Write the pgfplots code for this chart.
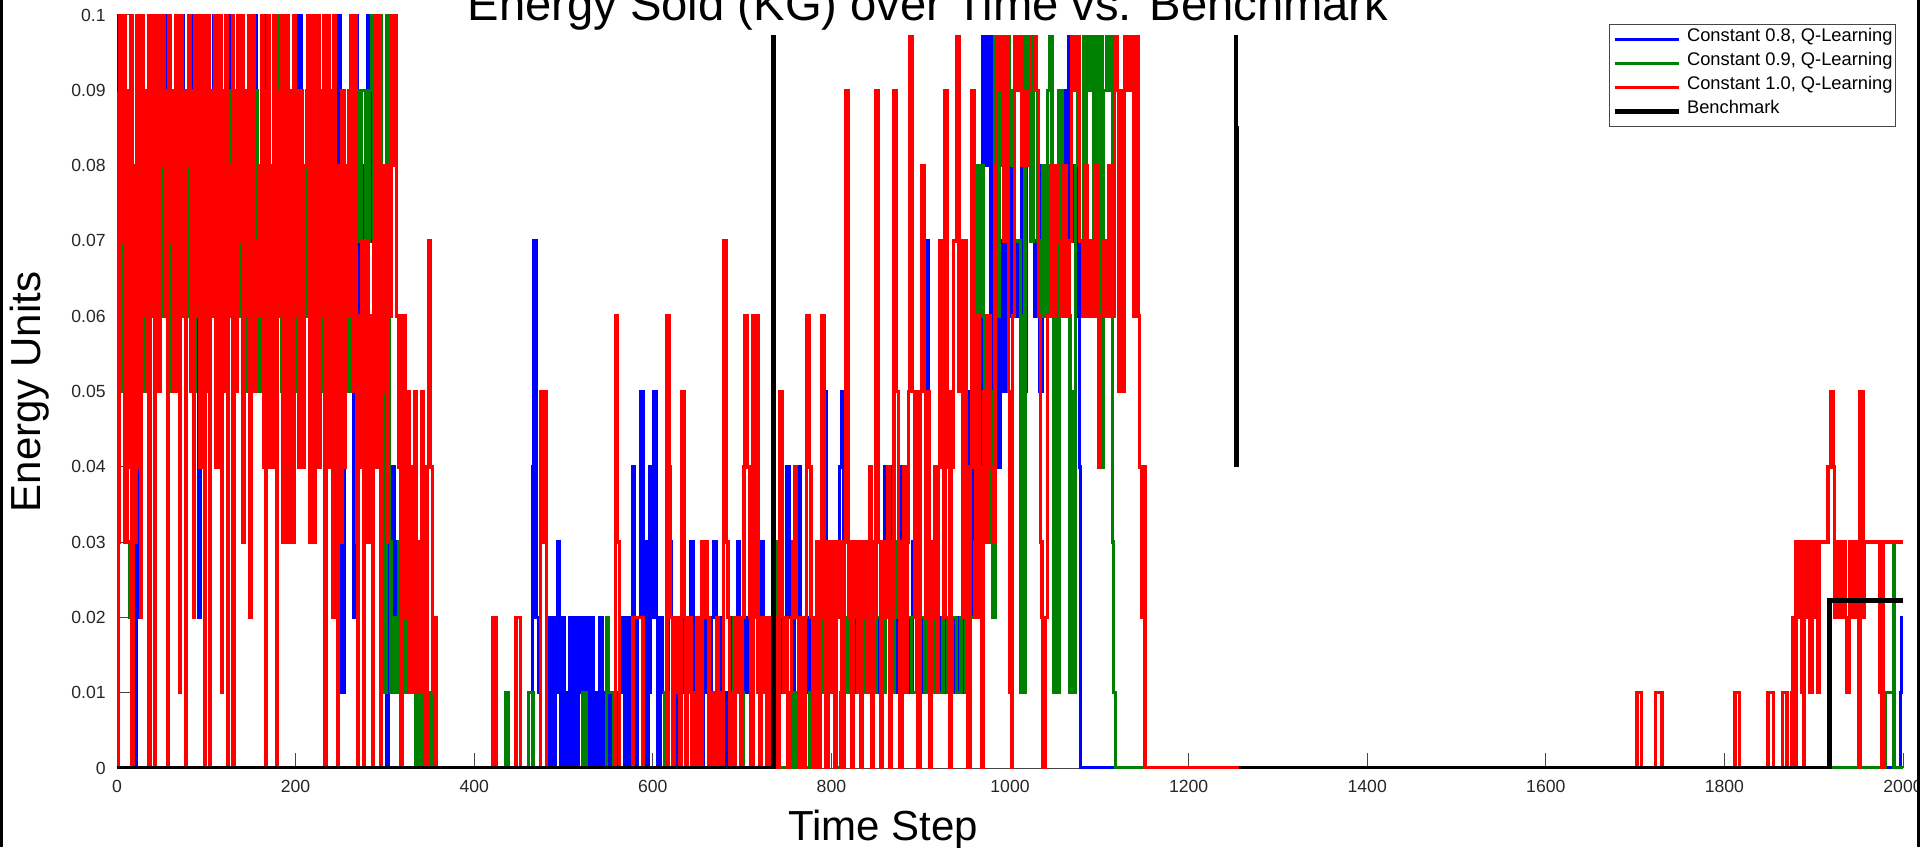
\documentclass[border=0pt]{standalone}
\usepackage{pgfplots}
\pgfplotsset{compat=1.18}
\usepackage{fontspec}
\setmainfont{Liberation Sans}
\definecolor{mblue}{RGB}{0,0,255}
\definecolor{mgreen}{RGB}{0,128,0}
\definecolor{mred}{RGB}{255,0,0}
\definecolor{axgray}{RGB}{70,70,70}

\begin{document}
\begin{tikzpicture}
\path[use as bounding box] (-58.5pt,-39.5pt) rectangle (901.5pt,384pt);
\begin{axis}[
  at={(0pt,0pt)}, anchor=south west,
  scale only axis, width=893pt, height=376.5pt,
  xmin=0, xmax=2000, ymin=0, ymax=0.1,
  axis x line*=bottom, axis y line*=left,
  axis line style={draw=axgray, line width=0.5pt},
  tick align=inside, major tick length=7.5pt,
  tick style={axgray, line width=0.5pt},
  xtick={0,200,400,600,800,1000,1200,1400,1600,1800,2000},
  xticklabels={0,200,400,600,800,1000,1200,1400,1600,1800,2000},
  ytick={0,0.01,0.02,0.03,0.04,0.05,0.06,0.07,0.08,0.09,0.1},
  yticklabels={0,0.01,0.02,0.03,0.04,0.05,0.06,0.07,0.08,0.09,0.1},
  scaled x ticks=false, scaled y ticks=false,
  ticklabel style={font=\fontsize{8.8}{10}\selectfont, text=black!85},
  xticklabel style={inner sep=0pt, anchor=north, yshift=-6pt},
  yticklabel style={inner sep=0pt, anchor=east, xshift=-5.5pt},
  const plot,
  unbounded coords=jump,
  legend cell align=left,
  legend style={at={(rel axis cs:0.9961,0.988)}, anchor=north east,
    draw=axgray, line width=0.5pt, fill=white,
    font=\fontsize{9.15}{11}\selectfont,
    inner xsep=1.5pt, inner ysep=1.5pt, column sep=3pt,
    nodes={inner xsep=0pt, inner ysep=0pt, text height=7pt, text depth=5pt}},
  legend image code/.code={\path (0pt,0pt) -- (4pt,0pt); \draw[#1, line cap=butt] (4pt,0pt) -- (32pt,0pt);},
]

% Constant 0.8
\addplot[mblue, line width=1.7pt] table[row sep=\\] {t v\\
0 0.09\\ 1 0.1\\ 3 0.07\\ 5 0.1\\ 8 0.06\\ 11 0.09\\ 14 0.05\\ 17 0.08\\ 19 0.02\\ 20 0\\ 22 0.05\\ 24 0.02\\ 26 0.06\\ 29 0.09\\
32 0.07\\ 35 0.1\\ 38 0.06\\ 41 0.08\\ 44 0.1\\ 47 0.07\\ 50 0.09\\ 53 0.06\\ 56 0.1\\ 59 0.08\\ 62 0.06\\ 65 0.09\\ 68 0.07\\
71 0.1\\ 74 0.08\\ 77 0.06\\ 80 0.09\\ 83 0.07\\ 86 0.1\\ 89 0.06\\ 91 0.02\\ 93 0.08\\ 96 0.1\\ 99 0.07\\ 102 0.09\\ 105 0.06\\
108 0.1\\ 111 0.08\\ 114 0.06\\ 117 0.09\\ 120 0.07\\ 123 0.1\\ 126 0.08\\ 129 0.06\\ 132 0.09\\ 135 0.07\\ 138 0.1\\ 141 0.08\\
144 0.06\\ 147 0.09\\ 150 0.07\\ 153 0.1\\ 156 0.08\\ 159 0.06\\ 162 0.09\\ 165 0.07\\ 168 0.1\\ 171 0.08\\ 174 0.06\\ 177 0.09\\
180 0.07\\ 183 0.1\\ 186 0.08\\ 189 0.06\\ 192 0.09\\ 195 0.07\\ 198 0.08\\ 201 0.06\\ 204 0.1\\ 206 0.06\\ 209 0.08\\ 212 0.06\\
215 0.09\\ 218 0.07\\ 221 0.08\\ 225 0.1\\ 227 0.08\\ 229 0.06\\ 233 0.1\\ 235 0.07\\ 238 0.09\\ 241 0.06\\ 244 0.08\\ 248 0.1\\
250 0.03\\ 252 0.01\\ 254 0.07\\ 257 0.08\\ 260 0.06\\ 263 0.1\\ 265 0.02\\ 267 0.1\\ 269 0.06\\ 272 0.08\\ 275 0.06\\ 278 0.07\\
280 0.03\\ 281 0.1\\ 285 0.07\\ 288 0.05\\ 291 0.06\\ 294 0.04\\ 297 0.05\\ 300 0.03\\ 302 0\\ 304 0.03\\ 307 0.04\\ 310 0.02\\
313 0.03\\ 316 0.02\\ 319 0.03\\ 322 0.02\\ 324 0.01\\ 328 0.02\\ 331 0.01\\ 334 0\\ 340 0.01\\ 342 0\\
465 0.02\\ 466 0.04\\ 467 0.07\\ 470 0.02\\ 472 0.01\\ 474 0\\
482 0.01\\ 484 0\\ 485 0.02\\ 487 0.01\\ 489 0\\ 491 0.02\\ 493 0.03\\ 495 0.01\\ 497 0\\ 499 0.02\\ 501 0.01\\ 503 0\\ 505 0.01\\
507 0.02\\ 509 0\\ 511 0.01\\ 513 0.02\\ 515 0\\ 517 0.01\\ 519 0.02\\ 521 0.01\\ 523 0\\ 525 0.02\\ 527 0.01\\ 529 0\\ 531 0.02\\
533 0.01\\ 535 0\\ 537 0.01\\ 539 0\\ 541 0.02\\ 543 0.01\\ 545 0\\ 547 0.01\\ 549 0\\ 551 0.01\\ 553 0\\ 555 0.01\\ 557 0\\
559 0.01\\ 561 0\\ 563 0.01\\ 566 0.02\\ 568 0\\ 570 0.02\\ 572 0.01\\ 574 0\\ 575 0.02\\ 577 0.04\\ 579 0.02\\ 581 0\\ 583 0.02\\
586 0.05\\ 589 0.02\\ 591 0.03\\ 593 0\\ 595 0.01\\ 597 0.04\\ 599 0.02\\ 601 0.05\\ 604 0.02\\ 606 0\\ 608 0.02\\ 611 0.01\\
613 0\\ 615 0.01\\ 617 0.02\\ 619 0.03\\ 621 0.02\\ 623 0\\ 626 0.02\\ 629 0.01\\ 632 0.02\\ 635 0.01\\
638 0.02\\ 640 0.01\\ 642 0.03\\ 645 0.01\\ 648 0.02\\ 651 0.01\\ 654 0\\ 656 0.01\\ 659 0.02\\ 662 0.01\\ 665 0.02\\ 668 0.03\\
671 0.01\\ 674 0.02\\ 677 0.01\\ 680 0\\ 683 0.01\\ 686 0.02\\ 689 0.01\\ 692 0.02\\ 695 0.03\\ 697 0.01\\ 700 0.02\\ 703 0.01\\
706 0.02\\ 709 0.04\\ 712 0.02\\ 715 0.04\\ 718 0.01\\ 720 0.02\\ 722 0.03\\ 724 0.01\\ 726 0.02\\ 729 0.01\\ 732 0.02\\ 735 0\\
738 0.01\\ 741 0.02\\ 744 0.01\\ 747 0.02\\ 750 0.04\\ 753 0.02\\ 756 0.01\\ 759 0.02\\ 762 0.04\\ 765 0.02\\ 768 0.01\\ 771 0.02\\
774 0.01\\ 776 0.02\\ 780 0.01\\ 783 0.02\\ 787 0.01\\ 790 0.02\\ 791 0.05\\ 794 0.02\\ 797 0.01\\ 800 0.03\\ 803 0.02\\ 806 0.03\\
809 0.04\\ 811 0.05\\ 814 0.02\\ 817 0.01\\ 820 0.02\\ 823 0.01\\ 826 0.02\\ 829 0.01\\ 832 0.02\\ 834 0.03\\ 838 0.02\\ 841 0.03\\
844 0.01\\ 847 0.02\\ 850 0.01\\ 853 0.02\\ 856 0.01\\ 860 0.04\\ 863 0.02\\ 865 0.04\\ 868 0.01\\ 871 0.02\\ 874 0.01\\ 877 0.04\\
880 0.02\\ 883 0.01\\ 886 0.02\\ 889 0.01\\ 891 0.03\\ 895 0.02\\ 898 0.01\\ 901 0.02\\ 904 0.01\\ 907 0.07\\ 909 0.02\\ 912 0.01\\
914 0.03\\ 918 0.02\\ 921 0.01\\ 924 0.02\\ 927 0.01\\ 930 0.02\\ 933 0.01\\ 936 0.02\\ 939 0.01\\ 942 0.02\\ 945 0.01\\ 948 0.02\\
951 0.01\\ 955 0.05\\ 958 0.02\\ 961 0.03\\ 964 0.02\\ 967 0.05\\ 969 0.1\\ 973 0.08\\ 975 0.1\\ 978 0.05\\ 980 0.1\\ 983 0.06\\
986 0.04\\ 989 0.07\\ 992 0.05\\ 996 0.09\\ 998 0.06\\ 1001 0.08\\ 1004 0.06\\ 1007 0.07\\ 1010 0.06\\ 1013 0.09\\ 1015 0.05\\
1018 0.09\\ 1020 0.1\\ 1022 0.08\\ 1025 0.07\\ 1028 0.06\\ 1031 0.08\\ 1033 0.05\\ 1036 0.07\\ 1040 0.06\\ 1044 0.08\\ 1048 0.06\\
1052 0.07\\ 1056 0.06\\ 1059 0.08\\ 1061 0.09\\ 1064 0.06\\ 1066 0.1\\ 1068 0.08\\ 1071 0.07\\ 1074 0.06\\ 1076 0.09\\ 1078 0.04\\
1079 0\\ 1997 0.01\\ 1998 0.02\\ 2000 0.02\\
};
\addlegendentry{Constant 0.8, Q-Learning}

% Constant 0.9
\addplot[mgreen, line width=1.7pt] table[row sep=\\] {t v\\
0 0.06\\ 3 0.08\\ 6 0.05\\ 9 0.07\\ 11 0.03\\ 14 0.02\\ 16 0.07\\ 19 0.05\\ 22 0.06\\ 26 0.05\\ 29 0.08\\ 32 0.06\\ 35 0.09\\
38 0.07\\ 41 0.1\\ 44 0.09\\ 46 0.06\\ 49 0.08\\ 52 0.06\\ 55 0.09\\ 58 0.07\\ 61 0.05\\ 64 0.08\\ 67 0.1\\ 70 0.06\\ 73 0.08\\
76 0.06\\ 79 0.09\\ 82 0.07\\ 85 0.05\\ 88 0.08\\ 91 0.06\\ 94 0.09\\ 97 0.07\\ 100 0.06\\ 103 0.08\\ 106 0.06\\ 109 0.09\\
112 0.07\\ 115 0.05\\ 118 0.08\\ 121 0.06\\ 124 0.09\\ 127 0.07\\ 130 0.05\\ 133 0.08\\ 136 0.06\\ 139 0.09\\ 142 0.07\\ 145 0.05\\
148 0.08\\ 151 0.06\\ 154 0.09\\ 157 0.07\\ 160 0.05\\ 162 0.1\\ 164 0.07\\ 167 0.06\\ 170 0.08\\ 173 0.06\\ 176 0.09\\ 179 0.1\\
181 0.07\\ 184 0.05\\ 187 0.08\\ 190 0.06\\ 193 0.09\\ 196 0.07\\ 199 0.05\\ 202 0.08\\ 205 0.06\\ 208 0.07\\ 211 0.06\\ 213 0.1\\
216 0.08\\ 219 0.06\\ 222 0.09\\ 225 0.07\\ 228 0.05\\ 231 0.08\\ 234 0.06\\ 237 0.09\\ 240 0.07\\ 243 0.05\\ 246 0.08\\ 249 0.06\\
252 0.05\\ 255 0.06\\ 258 0.05\\ 260 0.08\\ 264 0.1\\ 266 0.09\\ 270 0.07\\ 274 0.09\\ 278 0.07\\ 282 0.09\\ 285 0.1\\ 287 0.07\\
289 0.1\\ 292 0.09\\ 294 0.1\\ 296 0.07\\ 298 0.02\\ 300 0.01\\ 302 0.1\\ 305 0.03\\ 307 0.01\\ 310 0.02\\ 313 0.01\\ 316 0.03\\
319 0.01\\ 322 0.02\\ 325 0.01\\ 328 0.02\\ 331 0.01\\ 334 0\\ 336 0.01\\ 339 0\\ 341 0.01\\ 344 0\\ 350 0.01\\ 354 0\\
435 0.01\\ 438 0\\ 461 0.01\\ 466 0\\ 522 0.01\\ 526 0\\ 548 0.02\\ 550 0.01\\ 556 0\\ 613 0.01\\ 617 0\\ 673 0.01\\ 679 0\\
688 0.01\\ 691 0.02\\ 694 0.01\\ 701 0\\ 735 0.03\\ 739 0.01\\ 742 0\\ 757 0.01\\ 761 0\\ 776 0.01\\ 780 0\\ 787 0.02\\ 791 0.01\\
795 0.02\\ 798 0.01\\ 806 0\\ 810 0.01\\ 814 0.02\\ 817 0.01\\ 820 0.03\\ 823 0.02\\ 826 0.03\\ 829 0.01\\ 833 0.02\\ 837 0.01\\
841 0.02\\ 845 0.01\\ 850 0.02\\ 855 0.01\\ 860 0.02\\ 865 0.01\\ 870 0.02\\ 874 0.03\\ 880 0.01\\ 885 0.02\\ 890 0.01\\ 895 0.02\\
904 0.01\\ 908 0.02\\ 912 0.01\\ 916 0.02\\ 920 0.01\\ 925 0.02\\ 930 0.01\\ 935 0.02\\ 940 0.01\\ 945 0.02\\ 950 0.01\\ 955 0.02\\
960 0.03\\ 962 0.08\\ 965 0.06\\ 968 0.08\\ 970 0.06\\ 972 0.05\\ 975 0.03\\ 978 0.05\\ 981 0.02\\ 983 0.1\\ 986 0.06\\ 988 0.08\\
990 0.1\\ 993 0.09\\ 996 0.1\\ 999 0.08\\ 1002 0.09\\ 1005 0.07\\ 1012 0.01\\ 1014 0.06\\ 1016 0.01\\ 1017 0.1\\ 1020 0.09\\
1023 0.07\\ 1026 0.1\\ 1029 0.09\\ 1031 0.07\\ 1034 0.06\\ 1037 0.08\\ 1040 0.06\\ 1042 0.09\\ 1044 0.1\\ 1047 0.06\\ 1049 0.01\\
1051 0.07\\ 1053 0.01\\ 1055 0.09\\ 1058 0.06\\ 1061 0.08\\ 1063 0.07\\ 1065 0.06\\ 1067 0.01\\ 1069 0.05\\ 1071 0.01\\ 1073 0.08\\
1076 0.09\\ 1078 0.1\\ 1082 0.06\\ 1085 0.1\\ 1088 0.09\\ 1091 0.1\\ 1094 0.06\\ 1097 0.1\\ 1099 0.08\\ 1101 0.1\\ 1103 0.04\\
1105 0.09\\ 1108 0.1\\ 1111 0.09\\ 1113 0.1\\ 1115 0.03\\ 1116 0.01\\ 1118 0\\ 1980 0.01\\ 1987 0.01\\ 1989 0.03\\ 1990 0\\ 2000 0\\
};
\addlegendentry{Constant 0.9, Q-Learning}

% Constant 1.0
\addplot[mred, line width=1.7pt] table[row sep=\\] {t v\\
0 0.07\\ 1 0\\ 2 0.03\\ 3 0.1\\ 5 0.07\\ 7 0.1\\ 9 0.03\\ 11 0.09\\ 13 0.04\\ 15 0.1\\ 17 0\\ 18 0.08\\ 20 0.03\\ 22 0.1\\
24 0.04\\ 26 0.02\\ 27 0.1\\ 29 0.06\\ 31 0.09\\ 33 0.05\\ 35 0.1\\ 36 0\\ 37 0.08\\ 39 0.1\\ 41 0.06\\ 42 0\\ 43 0.09\\ 45 0.1\\
47 0.05\\ 49 0.08\\ 51 0.1\\ 53 0.06\\ 55 0.09\\ 57 0\\ 58 0.1\\ 60 0.07\\ 62 0.09\\ 64 0.05\\ 66 0.1\\ 68 0.07\\ 70 0.01\\ 71 0.1\\
73 0.06\\ 75 0.09\\ 77 0\\ 78 0.08\\ 80 0.1\\ 82 0.05\\ 84 0.09\\ 86 0.02\\ 87 0.1\\ 89 0.06\\ 91 0.1\\ 93 0.04\\ 95 0.09\\ 97 0.1\\
98 0\\ 99 0.07\\ 101 0.1\\ 103 0.05\\ 104 0\\ 105 0.09\\ 107 0.06\\ 109 0.1\\ 111 0.04\\ 113 0.08\\ 115 0.1\\ 117 0.01\\ 118 0.09\\
120 0.05\\ 122 0.1\\ 124 0\\ 125 0.08\\ 127 0.06\\ 129 0.1\\ 130 0\\ 131 0.09\\ 133 0.05\\ 135 0.1\\ 137 0.07\\ 139 0.1\\ 141 0.03\\
143 0.09\\ 145 0.06\\ 147 0.1\\ 149 0.02\\ 150 0.08\\ 152 0.1\\ 154 0.05\\ 156 0.07\\ 158 0.06\\ 160 0.08\\ 162 0.1\\ 164 0.04\\
166 0\\ 167 0.09\\ 169 0.1\\ 171 0.04\\ 173 0.08\\ 175 0.1\\ 177 0.04\\ 179 0\\ 180 0.09\\ 182 0.06\\ 184 0.1\\ 186 0.03\\ 188 0.08\\
190 0.1\\ 192 0.03\\ 194 0.09\\ 196 0.03\\ 198 0.1\\ 200 0.06\\ 202 0.09\\ 204 0.04\\ 206 0.09\\ 208 0.04\\ 210 0.08\\ 212 0.09\\
214 0.1\\ 216 0.03\\ 218 0.1\\ 220 0.03\\ 222 0.08\\ 224 0.1\\ 226 0.04\\ 228 0.09\\ 230 0.06\\ 232 0.1\\ 233 0\\ 234 0.07\\
236 0.1\\ 238 0.04\\ 240 0.09\\ 242 0.02\\ 243 0.1\\ 245 0.06\\ 247 0\\ 248 0.08\\ 250 0.03\\ 252 0.09\\ 254 0.04\\ 256 0.08\\
258 0.06\\ 260 0.09\\ 262 0.1\\ 264 0.05\\ 266 0.1\\ 268 0.03\\ 269 0\\ 270 0.06\\ 272 0.04\\ 274 0.07\\ 276 0\\ 277 0.05\\
279 0.07\\ 281 0.03\\ 283 0.06\\ 285 0.05\\ 286 0\\ 287 0.07\\ 289 0.1\\ 291 0.04\\ 293 0.1\\ 295 0\\ 296 0.08\\ 298 0.05\\
300 0.08\\ 302 0.03\\ 304 0.08\\ 306 0.06\\ 307 0.1\\ 309 0.08\\ 311 0.1\\ 313 0.06\\ 315 0.04\\ 317 0.06\\ 318 0\\ 319 0.05\\
321 0.06\\ 323 0.02\\ 325 0.05\\ 327 0.01\\ 329 0.04\\ 331 0.02\\ 333 0.05\\ 335 0.01\\ 337 0.03\\ 339 0.01\\ 341 0.05\\ 343 0.02\\
345 0\\ 347 0.04\\ 349 0.07\\ 351 0.04\\ 353 0.01\\ 355 0.02\\ 357 0\\
421 0.02\\ 425 0\\ 447 0.02\\ 452 0\\ 474 0.05\\ 476 0.03\\ 478 0.05\\ 481 0\\ 558 0.06\\ 560 0.03\\ 563 0\\ 578 0.02\\ 589 0\\
616 0.06\\ 618 0.04\\ 620 0.02\\ 622 0\\ 624 0.02\\ 626 0.01\\ 628 0.02\\ 630 0\\ 632 0.05\\ 635 0.02\\ 637 0\\ 639 0.01\\ 641 0.02\\
643 0\\ 645 0.01\\ 647 0\\ 649 0.02\\ 651 0.01\\ 653 0\\ 655 0.03\\ 657 0.02\\ 659 0.03\\ 661 0.02\\ 663 0\\ 665 0.01\\ 667 0\\
669 0.01\\ 671 0.02\\ 673 0\\ 675 0.01\\ 677 0\\ 679 0.07\\ 682 0.03\\ 684 0.02\\ 686 0\\ 688 0.01\\ 690 0\\ 692 0.02\\ 694 0.01\\
696 0.02\\ 698 0\\ 700 0.02\\ 702 0.04\\ 703 0.06\\ 706 0.04\\ 708 0.02\\ 710 0\\ 712 0.06\\ 714 0.02\\ 716 0.06\\ 718 0.01\\
720 0\\ 722 0.02\\ 724 0.01\\ 726 0.02\\ 728 0\\ 730 0.02\\ 732 0.01\\ 734 0\\ 737 0.01\\ 739 0.02\\ 741 0\\ 742 0.05\\ 745 0.02\\
747 0.01\\ 749 0.02\\ 751 0\\ 753 0.01\\ 755 0.02\\ 757 0.03\\ 759 0.04\\ 761 0.02\\ 763 0\\ 765 0.01\\ 767 0.02\\ 769 0\\ 771 0.02\\
772 0.06\\ 775 0.04\\ 777 0.02\\ 779 0\\ 781 0.02\\ 783 0.03\\ 785 0\\ 787 0.02\\ 789 0.06\\ 792 0.02\\ 794 0\\ 796 0.03\\ 798 0.02\\
800 0.01\\ 802 0.03\\ 804 0\\ 806 0.02\\ 808 0.03\\ 810 0.02\\ 812 0\\ 814 0.03\\ 816 0.09\\ 819 0.02\\ 821 0.03\\ 823 0\\ 825 0.03\\
827 0.02\\ 829 0.01\\ 831 0.03\\ 833 0\\ 835 0.02\\ 837 0.03\\ 839 0.01\\ 841 0.02\\ 843 0.04\\ 845 0\\ 847 0.03\\ 849 0.02\\
850 0.09\\ 853 0.03\\ 855 0\\ 857 0.02\\ 859 0.03\\ 861 0.02\\ 863 0.04\\ 865 0\\ 867 0.03\\ 869 0.02\\ 870 0.09\\ 873 0.05\\
875 0.02\\ 877 0\\ 879 0.03\\ 881 0.04\\ 883 0.01\\ 885 0.03\\ 886 0.05\\ 888 0.1\\ 891 0.05\\ 893 0.02\\ 895 0.05\\ 897 0\\
899 0.05\\ 901 0.08\\ 904 0.05\\ 906 0.02\\ 908 0.05\\ 910 0\\ 912 0.03\\ 914 0.02\\ 916 0.04\\ 918 0.01\\ 920 0.04\\ 921 0.07\\
924 0.04\\ 926 0.02\\ 927 0.09\\ 930 0.04\\ 932 0\\ 934 0.05\\ 936 0.04\\ 937 0.07\\ 940 0.1\\ 943 0.05\\ 945 0.07\\ 947 0.02\\
949 0.07\\ 951 0.04\\ 953 0\\ 955 0.04\\ 957 0.09\\ 960 0.04\\ 962 0.02\\ 964 0.06\\ 966 0.04\\ 968 0\\ 970 0.05\\ 972 0.03\\
975 0.06\\ 978 0.04\\ 981 0.03\\ 984 0.08\\ 985 0.1\\ 988 0.09\\ 990 0.1\\ 993 0.07\\ 995 0.1\\ 998 0.05\\ 1000 0.01\\ 1002 0\\
1003 0.06\\ 1005 0.1\\ 1008 0.09\\ 1010 0.1\\ 1013 0.08\\ 1015 0.09\\ 1018 0.08\\ 1021 0.09\\ 1023 0.1\\ 1029 0.09\\ 1032 0.06\\
1034 0.03\\ 1036 0.02\\ 1037 0\\ 1040 0.02\\ 1042 0.06\\ 1045 0.08\\ 1048 0.06\\ 1051 0.08\\ 1054 0.07\\ 1057 0.06\\ 1060 0.08\\
1063 0.06\\ 1066 0.07\\ 1069 0.1\\ 1072 0.09\\ 1075 0.1\\ 1078 0.07\\ 1081 0.06\\ 1084 0.08\\ 1087 0.06\\ 1090 0.07\\ 1093 0.06\\
1096 0.08\\ 1099 0.04\\ 1101 0.06\\ 1104 0.07\\ 1107 0.06\\ 1110 0.08\\ 1113 0.06\\ 1117 0.1\\ 1120 0.09\\ 1122 0.05\\ 1124 0.09\\
1126 0.05\\ 1128 0.1\\ 1131 0.09\\ 1134 0.1\\ 1137 0.09\\ 1138 0.06\\ 1141 0.1\\ 1144 0.06\\ 1145 0.04\\ 1147 0.02\\ 1149 0.04\\
1151 0\\ 1702 0.01\\ 1707 0\\ 1723 0.01\\ 1730 0\\ 1812 0.01\\ 1817 0\\ 1849 0.01\\ 1855 0\\ 1865 0.01\\ 1870 0\\ 1875 0.01\\
1877 0.02\\ 1879 0\\ 1880 0.03\\ 1882 0.02\\ 1884 0.03\\ 1886 0.01\\ 1887 0.03\\ 1889 0\\ 1890 0.03\\ 1892 0.02\\ 1894 0.03\\
1896 0.01\\ 1898 0.03\\ 1900 0.02\\ 1902 0.03\\ 1904 0.01\\ 1906 0.03\\ 1916 0.04\\ 1919 0.05\\ 1922 0.04\\ 1923 0.02\\ 1926 0.03\\
1929 0.02\\ 1932 0.03\\ 1935 0.02\\ 1937 0.01\\ 1940 0.03\\ 1943 0.02\\ 1946 0.03\\ 1948 0.02\\ 1950 0\\ 1952 0.05\\ 1955 0.02\\
1957 0.03\\ 1974 0.01\\ 1976 0\\ 1978 0.03\\ 2000 0.03\\
};
\addlegendentry{Constant 1.0, Q-Learning}

% Benchmark
\addplot[black, line width=2.4pt, sharp plot] table[row sep=\\] {t v\\
0 0\\ 735.5 0\\ 735.5 0.3\\ 1253 0.3\\ 1253 0.085\\ 1253.8 0.085\\ 1253.8 0.04\\ 1255 nan\\ 1256 0\\ 1918 0\\ 1918 0.0222\\ 2000 0.0222\\
};
\addlegendentry{Benchmark}
\end{axis}

% title over a white band
\node[fill=white, inner xsep=8pt, inner ysep=2pt, anchor=base,
      font=\fontsize{23.6}{28}\selectfont] at (405.5pt,373.5pt)
      {Energy Sold (KG) over Time vs. Benchmark};
% axis labels
\node[anchor=base, font=\fontsize{21}{25}\selectfont] at (383pt,-36pt) {Time Step};
\node[anchor=base, rotate=90, font=\fontsize{21}{25}\selectfont] at (-38pt,188pt) {Energy Units};
% window frame edges
\fill[black] (-58.5pt,-39.5pt) rectangle (-57pt,384pt);
\fill[black] (899.75pt,-39.5pt) rectangle (901.5pt,384pt);
\end{tikzpicture}
\end{document}
